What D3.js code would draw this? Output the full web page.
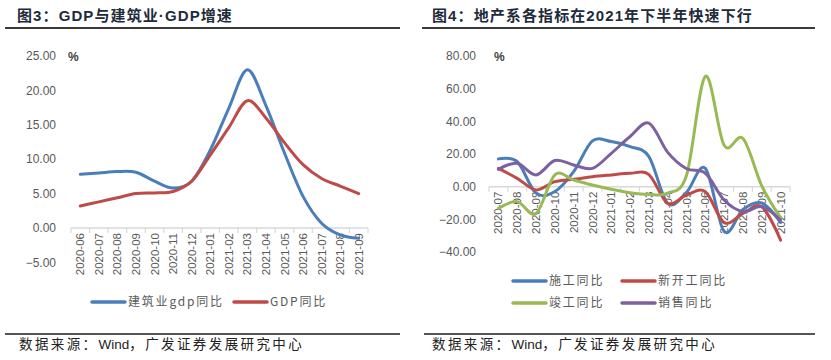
<!DOCTYPE html>
<html><head><meta charset="utf-8">
<script src="https://cdn.jsdelivr.net/npm/d3@7"></script>
<style>
html,body{margin:0;padding:0;background:#fff;}
svg{display:block;}
</style>
</head><body>
<svg id="c" width="831" height="360"></svg>
<script>
// ---------- data ----------
const leftCategories = ["2020-06","2020-07","2020-08","2020-09","2020-10","2020-11","2020-12","2021-01","2021-02","2021-03","2021-04","2021-05","2021-06","2021-07","2021-08","2021-09"];
const constructionGdp = [7.8, 8.0, 8.2, 8.1, 6.8, 5.8, 6.8, 11.3, 17.4, 23.0, 17.8, 10.9, 4.6, 0.7, -1.0, -1.5];
const gdpYoy = [3.2, 3.8, 4.4, 5.0, 5.1, 5.3, 6.8, 10.6, 14.6, 18.5, 16.0, 12.4, 9.2, 7.2, 6.1, 5.0];
const leftYTicks = [-5, 0, 5, 10, 15, 20, 25];

const rightCategories = ["2020-07","2020-08","2020-09","2020-10","2020-11","2020-12","2021-01","2021-02","2021-03","2021-04","2021-05","2021-06","2021-07","2021-08","2021-09","2021-10"];
const constructionYoy = [17.0, 15.3, -4.0, -3.0, 9.2, 28.0, 27.6, 24.5, 18.4, -10.2, -3.5, 11.2, -27.5, -14.0, -10.0, -22.0];
const newStartsYoy = [11.2, 5.1, -2.0, 3.1, 4.5, 6.1, 7.2, 8.2, 7.4, -10.2, -5.1, -3.1, -22.0, -16.4, -12.3, -32.7];
const completionYoy = [-13.3, -9.2, -16.4, 7.2, 4.1, 1.0, -1.6, -3.7, -4.7, -4.0, 7.0, 67.5, 25.3, 29.5, 0.5, -19.0];
const salesYoy = [10.6, 14.3, 7.2, 16.0, 13.3, 11.2, 20.4, 30.7, 38.9, 21.0, 11.0, 8.2, -8.2, -15.3, -12.3, -20.4];
const rightYTicks = [-40, -20, 0, 20, 40, 60, 80];

const COLORS = {blue:"#4a7ebb", red:"#be4b48", green:"#98b954", purple:"#7d60a0"};

// ---------- drawing ----------
const svg = d3.select("#c");
svg.append("rect").attr("width",831).attr("height",360).attr("fill","#fff");

const axisFont = "'Liberation Sans', Arial, sans-serif";
const cjkFont = "'Noto Sans CJK SC', sans-serif";

function title(x, lineX1, lineX2, text){
  svg.append("text").attr("x", x).attr("y", 21)
    .attr("font-family", "'Liberation Sans','Noto Sans CJK SC',sans-serif")
    .attr("font-weight","bold").attr("font-size", 15).attr("letter-spacing", 1.1)
    .attr("fill","#1e2b3a").text(text);
  svg.append("line").attr("x1",lineX1).attr("x2",lineX2).attr("y1",28).attr("y2",28)
    .attr("stroke","#3a3a3a").attr("stroke-width",2);
}
function source(x, lineX1, lineX2){
  svg.append("line").attr("x1",lineX1).attr("x2",lineX2).attr("y1",334).attr("y2",334)
    .attr("stroke","#555").attr("stroke-width",2);
  const t = svg.append("text").attr("x", x).attr("y", 349)
    .attr("font-family", "'Liberation Sans','Noto Sans CJK SC',sans-serif")
    .attr("font-size", 13.5).attr("fill","#222");
  t.append("tspan").attr("letter-spacing", 2.4).text("数据来源：");
  t.append("tspan").attr("letter-spacing", 0).text("Wind");
  t.append("tspan").attr("letter-spacing", 2.4).text("，广发证券发展研究中心");
}

function chart(cfg){
  const g = svg.append("g");
  const x = d3.scaleBand().domain(cfg.categories).range(cfg.xRange);
  const y = d3.scaleLinear().domain(cfg.yDomain).range(cfg.yRange);
  const y0 = y(0);
  // y tick labels
  g.selectAll(".yl").data(cfg.yTicks).join("text")
    .attr("x", cfg.yLabelX).attr("y", d => y(d)).attr("dy","0.35em")
    .attr("text-anchor","end").attr("font-family",axisFont).attr("font-size",12)
    .attr("fill","#595959").text(d => d3.format(".2f")(d));
  // % unit
  g.append("text").attr("x", cfg.pctX).attr("y", y(cfg.yDomain[1])).attr("dy","0.4em")
    .attr("font-family",axisFont).attr("font-size",12).attr("font-weight","bold")
    .attr("fill","#404040").text("%");
  // axis line
  g.append("line").attr("x1",cfg.xRange[0]).attr("x2",cfg.xRange[1]).attr("y1",y0).attr("y2",y0)
    .attr("stroke","#d9d9d9").attr("stroke-width",1.5);
  // ticks at boundaries
  const bounds = cfg.categories.map(c => x(c)).concat([cfg.xRange[1]]);
  g.selectAll(".tk").data(bounds).join("line")
    .attr("x1",d=>d).attr("x2",d=>d).attr("y1",y0).attr("y2",y0+5)
    .attr("stroke","#d9d9d9").attr("stroke-width",1.2);
  // x labels (below the lines, as in Excel)
  g.selectAll(".xl").data(cfg.categories).join("text")
    .attr("transform", d => `translate(${x(d)+x.bandwidth()/2},${y0+5}) rotate(-90)`)
    .attr("text-anchor","end").attr("dy","0.35em")
    .attr("font-family",axisFont).attr("font-size",11.5).attr("fill","#595959").text(d=>d);
  // lines
  const line = d3.line().x((d,i)=> x(cfg.categories[i]) + x.bandwidth()/2).y(d=>y(d))
    .curve(d3.curveCardinal.tension(0));
  cfg.series.forEach(s => {
    g.append("path").attr("d", line(s.values)).attr("fill","none")
      .attr("stroke", s.color).attr("stroke-width",3).attr("stroke-linejoin","round").attr("stroke-linecap","round");
  });
  // legend
  cfg.legend.forEach(l => {
    g.append("line").attr("x1",l.x).attr("x2",l.x+33).attr("y1",l.y).attr("y2",l.y)
      .attr("stroke",l.color).attr("stroke-width",3.5).attr("stroke-linecap","round");
    g.append("text").attr("x",l.x+36).attr("y",l.y).attr("dy","0.35em")
      .attr("font-family",cjkFont).attr("font-size",12).attr("letter-spacing",1.8)
      .attr("fill","#595959").text(l.label);
  });
}

title(17, 5, 400, "图3：GDP与建筑业·GDP增速");
title(432, 422, 815, "图4：地产系各指标在2021年下半年快速下行");

chart({
  categories: leftCategories, xRange:[71,368], yDomain:[-5,25], yRange:[262.4,56],
  yTicks: leftYTicks, yLabelX: 56, pctX: 68,
  series: [
    {values: constructionGdp, color: COLORS.blue},
    {values: gdpYoy, color: COLORS.red}
  ],
  legend: [
    {x: 92, y: 302, color: COLORS.blue, label: "建筑业gdp同比"},
    {x: 234, y: 302, color: COLORS.red, label: "GDP同比"}
  ]
});

chart({
  categories: rightCategories, xRange:[489,790], yDomain:[-40,80], yRange:[252,56],
  yTicks: rightYTicks, yLabelX: 476, pctX: 494,
  series: [
    {values: constructionYoy, color: COLORS.blue},
    {values: newStartsYoy, color: COLORS.red},
    {values: completionYoy, color: COLORS.green},
    {values: salesYoy, color: COLORS.purple}
  ],
  legend: [
    {x: 513, y: 281, color: COLORS.blue, label: "施工同比"},
    {x: 622, y: 281, color: COLORS.red, label: "新开工同比"},
    {x: 513, y: 303, color: COLORS.green, label: "竣工同比"},
    {x: 622, y: 303, color: COLORS.purple, label: "销售同比"}
  ]
});

source(19, 5, 400);
source(432, 424, 815);
</script>
</body></html>
